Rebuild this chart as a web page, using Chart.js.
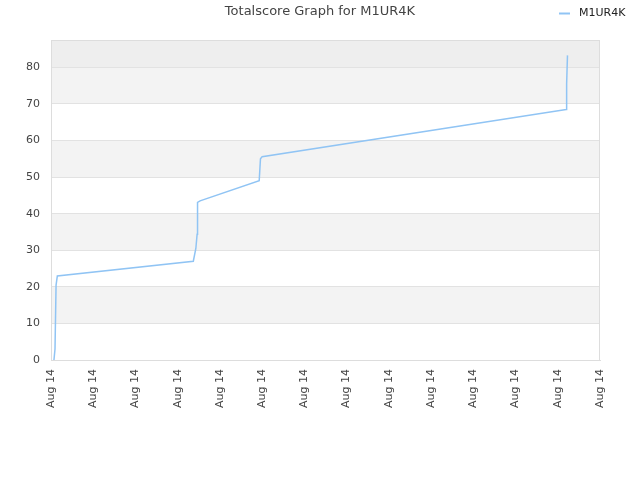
<!DOCTYPE html>
<html>
<head>
<meta charset="utf-8">
<script src="https://cdn.jsdelivr.net/npm/chart.js@4/dist/chart.umd.min.js"></script>
<style>
  html, body { margin: 0; padding: 0; background: #fff; }
  #wrap { width: 640px; height: 480px; }
</style>
</head>
<body>
<div id="wrap"><canvas id="c" width="640" height="480"></canvas></div>
<script>
// chart data
const titleText = 'Totalscore Graph for M1UR4K';
const seriesName = 'M1UR4K';
const xLabels = ['Aug 14', 'Aug 14', 'Aug 14', 'Aug 14', 'Aug 14', 'Aug 14', 'Aug 14',
                 'Aug 14', 'Aug 14', 'Aug 14', 'Aug 14', 'Aug 14', 'Aug 14', 'Aug 14'];
// x in tick steps (0..13)
const xValues = [0.07, 0.095, 0.1, 0.12, 0.15, 3.37, 3.43, 3.46, 3.47, 3.53, 4.93, 4.96, 5.0, 12.2, 12.21, 12.23];
const scores  = [0, 3, 3, 20.5, 23, 27, 30.5, 34.4, 43.1, 43.5, 49, 55, 55.6, 68.5, 75.6, 83.3];
const yMax = 87.5;

const points = xValues.map((x, i) => ({ x: x, y: scores[i] }));

const FONT = '"DejaVu Sans", Verdana, sans-serif';

const bgPlugin = {
  id: 'bands',
  beforeDraw(chart) {
    const { ctx, chartArea: a, scales: { y } } = chart;
    ctx.save();
    for (let v = 0; v < yMax; v += 10) {
      const top = y.getPixelForValue(Math.min(v + 10, yMax));
      const bot = y.getPixelForValue(v);
      let col = (v / 10) % 2 === 1 ? '#f3f3f3' : '#ffffff';
      if (v >= 80) col = '#eeeeee';
      ctx.fillStyle = col;
      ctx.fillRect(a.left, top, a.right - a.left, bot - top);
    }
    ctx.restore();
  },
  afterDraw(chart) {
    const { ctx, chartArea: a } = chart;
    ctx.save();
    ctx.strokeStyle = '#dddddd';
    ctx.lineWidth = 1;
    ctx.strokeRect(a.left + 0.5, a.top + 0.5, a.right - a.left - 1, a.bottom - a.top);
    // title
    ctx.fillStyle = '#444';
    ctx.font = '13px ' + FONT;
    ctx.textAlign = 'center';
    ctx.textBaseline = 'middle';
    ctx.fillText(titleText, 320, 12);
    // legend
    ctx.strokeStyle = '#90c4f4';
    ctx.lineWidth = 2;
    ctx.beginPath();
    ctx.moveTo(559, 13.5);
    ctx.lineTo(570, 13.5);
    ctx.stroke();
    ctx.fillStyle = '#222';
    ctx.font = '11px ' + FONT;
    ctx.textAlign = 'left';
    ctx.fillText(seriesName, 579, 13);
    ctx.restore();
  }
};

new Chart(document.getElementById('c'), {
  type: 'line',
  data: {
    datasets: [{
      label: seriesName,
      data: points,
      borderColor: '#90c4f4',
      borderWidth: 1.5,
      pointRadius: 0,
      tension: 0,
      fill: false
    }]
  },
  options: {
    responsive: false,
    animation: false,
    layout: { padding: { left: 0, right: 40, top: 40, bottom: 0 } },
    plugins: {
      legend: { display: false },
      title: { display: false },
      tooltip: { enabled: false }
    },
    scales: {
      x: {
        type: 'linear',
        min: 0,
        max: xLabels.length - 1,
        afterFit(s) { s.height = 120; },
        afterBuildTicks(s) { s.ticks = xLabels.map((_, i) => ({ value: i })); },
        grid: { display: false, drawTicks: false },
        border: { display: true, color: '#dddddd' },
        ticks: {
          autoSkip: false,
          stepSize: 1,
          minRotation: 90,
          maxRotation: 90,
          padding: 9,
          color: '#444',
          font: { family: FONT, size: 11 },
          callback: (v) => xLabels[Math.round(v)]
        }
      },
      y: {
        min: 0,
        max: yMax,
        afterFit(s) { s.width = 51; },
        afterBuildTicks(s) { s.ticks = s.ticks.filter(t => t.value % 10 === 0); },
        grid: { color: '#e2e2e2', drawTicks: false },
        border: { display: true, color: '#dddddd' },
        ticks: {
          stepSize: 10,
          padding: 11,
          color: '#444',
          font: { family: FONT, size: 11 }
        }
      }
    }
  },
  plugins: [bgPlugin]
});
</script>
</body>
</html>
